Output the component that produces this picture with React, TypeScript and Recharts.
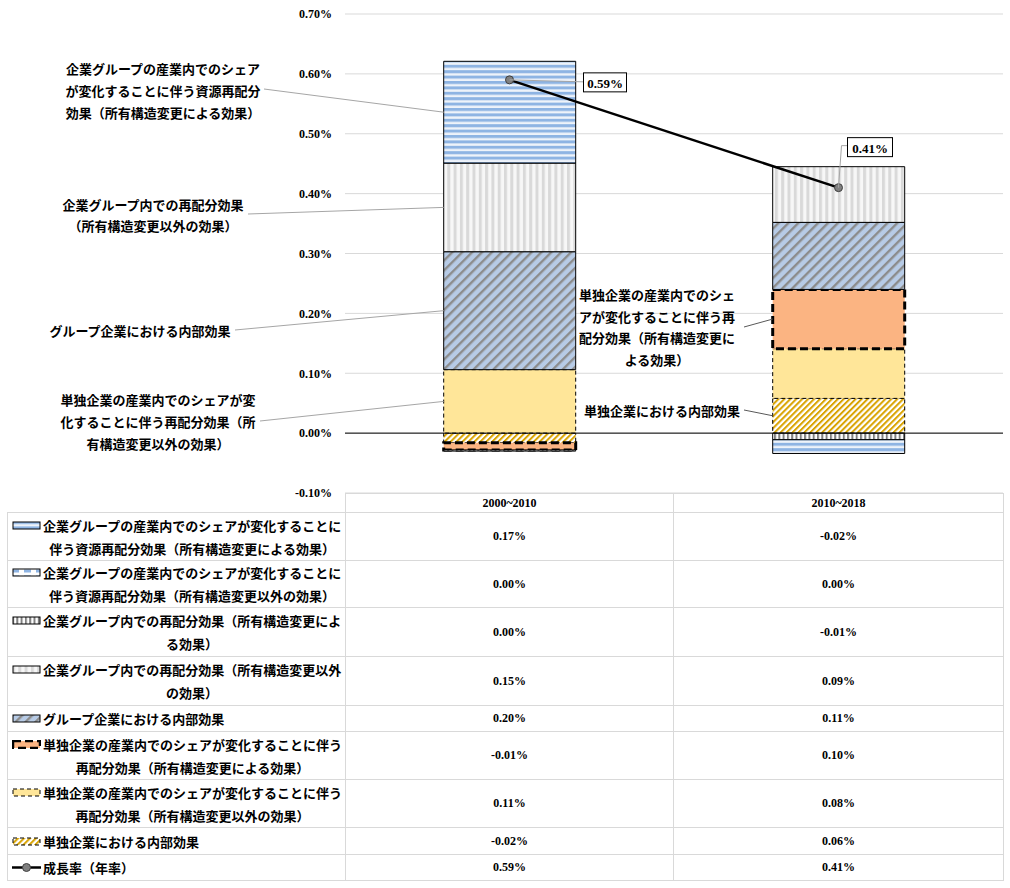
import React from 'react';
import { ComposedChart, Bar, Line, XAxis, YAxis, CartesianGrid, ReferenceLine, LabelList } from 'recharts';

// periods (categories)
const PERIODS = ['2000~2010', '2010~2018'];

// series values, in % points
const S1 = [0.17, -0.023]; // 企業グループの産業内シェア変化（所有構造変更による）
const S2 = [0, 0]; // 企業グループの産業内シェア変化（所有構造変更以外）
const S3 = [-0.002, -0.011]; // 企業グループ内再配分（所有構造変更による）
const S4 = [0.148, 0.093]; // 企業グループ内再配分（所有構造変更以外）
const S5 = [0.197, 0.112]; // グループ企業内部効果
const S6 = [-0.012, 0.099]; // 単独企業シェア変化（所有構造変更による）
const S7 = [0.106, 0.083]; // 単独企業シェア変化（所有構造変更以外）
const S8 = [-0.016, 0.058]; // 単独企業内部効果
const GROWTH = [0.59, 0.41]; // 成長率（年率）

const Y_TICKS = [-0.1, 0, 0.1, 0.2, 0.3, 0.4, 0.5, 0.6, 0.7];

const SERIES_NAMES = [
  '企業グループの産業内でのシェアが変化することに\n伴う資源再配分効果（所有構造変更による効果）',
  '企業グループの産業内でのシェアが変化することに\n伴う資源再配分効果（所有構造変更以外の効果）',
  '企業グループ内での再配分効果（所有構造変更によ\nる効果）',
  '企業グループ内での再配分効果（所有構造変更以外\nの効果）',
  'グループ企業における内部効果',
  '単独企業の産業内でのシェアが変化することに伴う\n再配分効果（所有構造変更による効果）',
  '単独企業の産業内でのシェアが変化することに伴う\n再配分効果（所有構造変更以外の効果）',
  '単独企業における内部効果',
  '成長率（年率）',
];

const SERIES_VALUES = [S1, S2, S3, S4, S5, S6, S7, S8, GROWTH];

const data = PERIODS.map((p, i) => ({
  period: p,
  s1: S1[i], s2: S2[i], s3: S3[i], s4: S4[i], s5: S5[i], s6: S6[i], s7: S7[i], s8: S8[i],
  growth: GROWTH[i],
}));

const SERIF = '"Liberation Serif", "Times New Roman", serif';
const JP = '"Noto Sans CJK JP", "Noto Sans", sans-serif';

const fmt = (v: number) => {
  const s = v.toFixed(2);
  return (s === '-0.00' ? '0.00' : s) + '%';
};

// bar styles, index matches series number - 1
const STYLES = [
  { fill: 'url(#pH)', stroke: '#000', strokeWidth: 1, dash: undefined },
  { fill: 'url(#pHd)', stroke: '#000', strokeWidth: 1, dash: undefined },
  { fill: 'url(#pVd)', stroke: '#000', strokeWidth: 1, dash: undefined },
  { fill: 'url(#pVl)', stroke: '#000', strokeWidth: 1, dash: undefined },
  { fill: 'url(#pDb)', stroke: '#000', strokeWidth: 1, dash: undefined },
  { fill: '#FBB482', stroke: '#000', strokeWidth: 3, dash: '8 4' },
  { fill: '#FFE699', stroke: '#000', strokeWidth: 1, dash: '4 3' },
  { fill: 'url(#pDg)', stroke: '#000', strokeWidth: 1, dash: '4 3' },
];

// callout texts next to the bars
const ANNOTATIONS: Record<string, any> = {
  s1: { index: 0, lines: ['企業グループの産業内でのシェア', 'が変化することに伴う資源再配分', '効果（所有構造変更による効果）'], cx: 163, cy: 68, lh: 22, lx: 264, ly: 89, color: '#A6A6A6' },
  s4: { index: 0, lines: ['企業グループ内での再配分効果', '（所有構造変更以外の効果）'], cx: 153, cy: 204, lh: 21, lx: 248, ly: 214, color: '#A6A6A6' },
  s5: { index: 0, lines: ['グループ企業における内部効果'], cx: 140, cy: 330, lh: 22, lx: 235, ly: 330, color: '#A6A6A6' },
  s7: { index: 0, lines: ['単独企業の産業内でのシェアが変', '化することに伴う再配分効果（所', '有構造変更以外の効果）'], cx: 158, cy: 399, lh: 22, lx: 260, ly: 421, color: '#A6A6A6' },
  s6: { index: 1, lines: ['単独企業の産業内でのシェ', 'アが変化することに伴う再', '配分効果（所有構造変更に', 'よる効果）'], cx: 657, cy: 294, lh: 21.7, lx: 744, ly: 327, color: '#595959' },
  s8: { index: 1, lines: ['単独企業における内部効果'], cx: 662, cy: 410, lh: 22, lx: 744, ly: 410, color: '#595959' },
};

const box = (props: any) => {
  const vb = props.viewBox && props.viewBox.x != null ? props.viewBox : props;
  return { x: Number(vb.x), y: Number(vb.y), width: Number(vb.width || 0), height: Number(vb.height || 0) };
};

const annotationContent = (key: string) => (props: any) => {
  const a = ANNOTATIONS[key];
  if (!a || props.index !== a.index) return null;
  const b = box(props);
  const ey = b.y + b.height / 2;
  return (
    <g>
      <line x1={a.lx} y1={a.ly} x2={b.x} y2={ey} stroke={a.color} strokeWidth={1} />
      <text x={a.cx} y={a.cy} textAnchor="middle" dominantBaseline="central" fontFamily={JP} fontWeight={700} fontSize={13} fill="#000">
        {a.lines.map((t: string, i: number) => (
          <tspan key={i} x={a.cx} dy={i === 0 ? 0 : a.lh}>{t}</tspan>
        ))}
      </text>
    </g>
  );
};

// growth rate data label callouts (offsets from the point)
const GROWTH_LABEL = [
  { bx: 74, by: -7, bw: 43, bh: 19, path: (x: number, y: number) => `M${x},${y} L${x + 74},${y + 2}` },
  { bx: 9, by: -50, bw: 45, bh: 19, path: (x: number, y: number) => `M${x},${y} L${x + 3},${y - 42} L${x + 9},${y - 42}` },
];

const growthLabel = (props: any) => {
  const b = box(props);
  const g = GROWTH_LABEL[props.index];
  if (!g) return null;
  return (
    <g>
      <path d={g.path(b.x, b.y)} stroke="#A6A6A6" strokeWidth={1} fill="none" />
      <rect x={b.x + g.bx} y={b.y + g.by} width={g.bw} height={g.bh} fill="#fff" stroke="#000" strokeWidth={1} />
      <text x={b.x + g.bx + g.bw / 2} y={b.y + g.by + g.bh / 2 + 1} textAnchor="middle" dominantBaseline="central" fontFamily={SERIF} fontWeight={700} fontSize={13} fill="#000">
        {fmt(Number(props.value))}
      </text>
    </g>
  );
};

function Patterns() {
  return (
    <svg width={0} height={0} style={{ position: 'absolute' }}>
      <defs>
        <pattern id="pH" width={8} height={5.4} patternUnits="userSpaceOnUse">
          <rect width={8} height={5.4} fill="#EEF3FA" />
          <rect width={8} height={3} fill="#8EB4E3" />
        </pattern>
        <pattern id="pHd" width={12} height={6} patternUnits="userSpaceOnUse">
          <rect width={12} height={6} fill="#fff" />
          <rect y={1.5} width={7} height={3} fill="#8EB4E3" />
        </pattern>
        <pattern id="pVd" width={4.3} height={8} patternUnits="userSpaceOnUse">
          <rect width={4.3} height={8} fill="#fff" />
          <rect width={2} height={8} fill="#808080" />
        </pattern>
        <pattern id="pVl" width={6.3} height={8} patternUnits="userSpaceOnUse">
          <rect width={6.3} height={8} fill="#F7F7F7" />
          <rect width={3} height={8} fill="#D9D9D9" />
        </pattern>
        <pattern id="pDb" width={7} height={7} patternUnits="userSpaceOnUse" patternTransform="rotate(45)">
          <rect width={7} height={7} fill="#B7CBE6" />
          <rect width={2.4} height={7} fill="#8C8C8C" />
        </pattern>
        <pattern id="pDg" width={4.2} height={4.2} patternUnits="userSpaceOnUse" patternTransform="rotate(45)">
          <rect width={4.2} height={4.2} fill="#fff" />
          <rect width={2} height={4.2} fill="#D9A300" />
        </pattern>
      </defs>
    </svg>
  );
}

function Swatch({ i }: { i: number }) {
  if (i === 8) {
    return (
      <svg width={29} height={9} style={{ flex: 'none', marginTop: 7, marginRight: 2 }}>
        <line x1={0} y1={4.5} x2={29} y2={4.5} stroke="#000" strokeWidth={2.5} />
        <circle cx={14.5} cy={4.5} r={4} fill="#808080" stroke="#404040" strokeWidth={1} />
      </svg>
    );
  }
  const s = STYLES[i];
  return (
    <svg width={29} height={9} style={{ flex: 'none', marginTop: 7, marginRight: 2 }}>
      <rect x={1} y={1} width={27} height={7} fill={s.fill} stroke={s.stroke} strokeWidth={s.strokeWidth === 3 ? 2.5 : 1} strokeDasharray={s.dash} />
    </svg>
  );
}

const ROW_H = [48, 47, 49, 49, 26, 48, 48, 27, 26];
const BORDER = '1px solid #D9D9D9';

function DataTable() {
  const valCell: React.CSSProperties = {
    border: BORDER, textAlign: 'center', verticalAlign: 'middle', padding: 0,
    fontFamily: SERIF, fontWeight: 700, fontSize: 12, color: '#000',
  };
  return (
    <table style={{ position: 'absolute', left: 7, top: 493, borderCollapse: 'collapse', tableLayout: 'fixed', width: 996 }}>
      <colgroup>
        <col style={{ width: 338 }} />
        <col style={{ width: 328 }} />
        <col style={{ width: 330 }} />
      </colgroup>
      <tbody>
        <tr style={{ height: 19 }}>
          <td style={{ border: 'none', padding: 0 }} />
          {PERIODS.map((p) => <td key={p} style={valCell}>{p}</td>)}
        </tr>
        {SERIES_NAMES.map((name, i) => (
          <tr key={i} style={{ height: ROW_H[i] }}>
            <td style={{ border: BORDER, padding: 0, verticalAlign: 'middle' }}>
              <div style={{ display: 'flex', alignItems: 'flex-start', paddingLeft: 4 }}>
                <Swatch i={i} />
                <div style={{ textAlign: 'center', whiteSpace: 'pre-line', lineHeight: '23px', fontFamily: JP, fontWeight: 700, fontSize: 13, color: '#000' }}>
                  {name}
                </div>
              </div>
            </td>
            {PERIODS.map((p, j) => <td key={p} style={valCell}>{fmt(SERIES_VALUES[i][j])}</td>)}
          </tr>
        ))}
      </tbody>
    </table>
  );
}

const BAR_ORDER = ['s8', 's7', 's6', 's5', 's4', 's3', 's2', 's1'];

export default function App() {
  return (
    <div style={{ position: 'absolute', left: 0, top: 0, width: 1010, height: 888, background: '#fff' }}>
      <Patterns />
      <ComposedChart
        width={1010}
        height={500}
        data={data}
        stackOffset="sign"
        barCategoryGap="30%"
        margin={{ top: 14, right: 7, left: 0, bottom: 7 }}
      >
        <CartesianGrid stroke="#D9D9D9" vertical={false} />
        <XAxis dataKey="period" hide />
        <YAxis
          type="number"
          domain={[-0.1, 0.7]}
          ticks={Y_TICKS}
          interval={0}
          width={345}
          tickSize={0}
          tickMargin={13}
          axisLine={false}
          tickLine={false}
          tickFormatter={(v: number) => fmt(v)}
          tick={{ fill: '#000', fontSize: 12, fontWeight: 700, fontFamily: SERIF }}
        />
        <ReferenceLine y={0} stroke="#000" strokeWidth={1} />
        {BAR_ORDER.map((k) => {
          const s = STYLES[Number(k.slice(1)) - 1];
          return (
            <Bar key={k} dataKey={k} stackId="a" fill={s.fill} stroke={s.stroke} strokeWidth={s.strokeWidth}
              strokeDasharray={s.dash} isAnimationActive={false}>
              {ANNOTATIONS[k] && <LabelList dataKey={k} content={annotationContent(k)} />}
            </Bar>
          );
        })}
        <Line type="linear" dataKey="growth" stroke="#000" strokeWidth={2.5}
          dot={{ r: 4, fill: '#808080', stroke: '#404040', strokeWidth: 1 }} isAnimationActive={false}>
          <LabelList dataKey="growth" content={growthLabel} />
        </Line>
      </ComposedChart>
      <DataTable />
    </div>
  );
}
